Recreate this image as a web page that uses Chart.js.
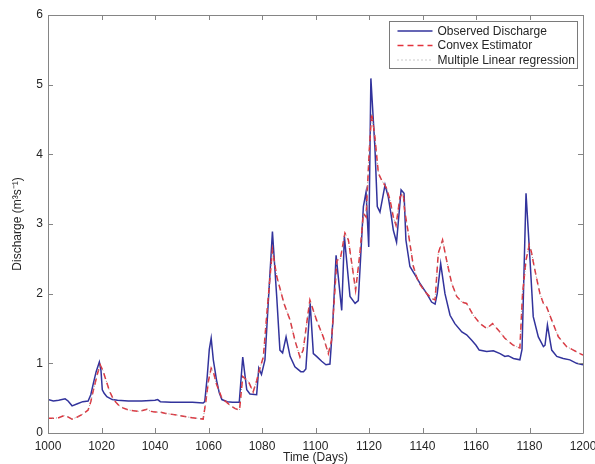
<!DOCTYPE html>
<html>
<head>
<meta charset="utf-8">
<script src="https://cdn.jsdelivr.net/npm/chart.js@4"></script>
<style>
  html, body { margin: 0; padding: 0; background: #fff; }
  #wrap { width: 595px; height: 464px; }
</style>
</head>
<body>
<div id="wrap"><canvas id="c" width="595" height="464"></canvas></div>
<script>
// ---- data ----
const seriesNames = ['Observed Discharge', 'Convex Estimator', 'Multiple Linear regression'];
const xTickValues = [1000, 1020, 1040, 1060, 1080, 1100, 1120, 1140, 1160, 1180, 1200];
const yTickValues = [0, 1, 2, 3, 4, 5, 6];

const obsDays = [1000,1002,1004,1006.4,1007.5,1009,1011,1013,1015,1016,1017,1018,1019.2,1019.8,1020.3,1021,1022,1024,1026,1030,1035,1040,1041,1042,1046,1050,1054,1058,1058.6,1059.5,1060.3,1061,1061.8,1063,1064,1065,1067,1069,1071.5,1072.8,1074.3,1075.5,1078,1078.8,1079.8,1081.1,1082.4,1083.9,1085.5,1086.7,1087.7,1089,1090.5,1092.3,1094.5,1095.5,1096.4,1097.2,1098,1099.2,1100.4,1102.3,1103.9,1105.4,1106.5,1107.7,1109.8,1110.8,1112.9,1114.8,1116,1117.9,1118.9,1119.9,1120.7,1122.2,1123.1,1124.1,1126,1127.2,1128.2,1129.1,1130.3,1132,1133.1,1133.8,1135.3,1137.2,1139,1141.6,1143.4,1144.7,1145.5,1146.8,1148.4,1150.3,1152.1,1154.7,1156.5,1158.4,1160,1161.2,1164,1166.5,1169,1170.8,1172,1174,1176.4,1177.2,1178.7,1180.2,1181.4,1183.3,1185.2,1185.8,1186.7,1188.3,1190.2,1192.6,1195.1,1197.6,1200];
const obsValues = [0.48,0.46,0.47,0.49,0.46,0.39,0.42,0.45,0.46,0.55,0.72,0.88,1.02,0.90,0.62,0.57,0.52,0.48,0.47,0.46,0.46,0.47,0.48,0.45,0.44,0.44,0.44,0.43,0.45,0.80,1.20,1.36,1.05,0.76,0.58,0.48,0.45,0.44,0.44,1.09,0.62,0.56,0.55,0.93,0.84,1.05,1.91,2.89,1.96,1.19,1.15,1.38,1.10,0.95,0.88,0.88,0.92,1.40,1.86,1.14,1.10,1.03,0.98,0.99,1.60,2.55,1.76,2.82,1.96,1.86,1.90,3.25,3.46,2.67,5.09,4.11,3.25,3.17,3.56,3.39,3.15,2.91,2.74,3.49,3.44,2.77,2.39,2.27,2.15,2.00,1.88,1.85,2.00,2.43,2.00,1.69,1.57,1.45,1.41,1.33,1.26,1.19,1.17,1.18,1.14,1.10,1.11,1.07,1.05,1.20,3.44,2.48,1.67,1.38,1.24,1.26,1.55,1.19,1.10,1.07,1.05,1.00,0.98];

const convexDays = [1000,1002,1004,1006,1007,1009,1011,1013,1015,1016,1017,1018.5,1019.5,1020.5,1021.5,1023,1024.5,1026.4,1028,1030,1032,1034,1036,1037,1038.5,1040,1042,1044,1048,1052,1056,1058,1059,1060,1061,1062,1063,1065,1066.5,1068,1070,1071.6,1072.8,1074.9,1076.7,1078,1079,1080.5,1082,1083.9,1085.5,1088.3,1090.5,1092.3,1094.2,1095.4,1096.8,1097.9,1100.4,1102.9,1104.8,1106,1108,1109.3,1111,1112.3,1114.1,1115,1116.6,1117.9,1118.9,1120.1,1121,1122.2,1123.5,1124.7,1126.6,1127.9,1129.1,1130.1,1131.6,1132.8,1133.3,1134.7,1136.6,1138.4,1140.9,1143.4,1144.7,1145.9,1147.5,1149,1150.9,1152.8,1154.7,1156.5,1159,1161.5,1164,1166.2,1168.3,1170.8,1173.9,1176.4,1177.4,1178.7,1179.9,1180.7,1182,1183.9,1185.2,1186.4,1188.3,1190.8,1193.9,1196.4,1198.9,1200];
const convexValues = [0.21,0.21,0.22,0.25,0.24,0.20,0.23,0.27,0.33,0.45,0.62,0.85,0.98,0.90,0.78,0.60,0.48,0.40,0.36,0.33,0.32,0.31,0.33,0.34,0.31,0.30,0.30,0.28,0.26,0.23,0.21,0.20,0.45,0.75,0.93,0.85,0.70,0.50,0.45,0.40,0.35,0.33,0.81,0.74,0.59,0.75,0.90,1.09,1.80,2.63,2.25,1.85,1.62,1.33,1.09,1.19,1.60,1.91,1.62,1.38,1.14,1.33,2.48,2.50,2.87,2.77,2.29,2.05,2.58,3.15,3.10,4.06,4.59,4.25,3.73,3.63,3.51,3.34,3.10,2.98,3.39,3.44,3.20,2.87,2.39,2.17,2.03,1.93,1.91,2.58,2.77,2.48,2.15,1.96,1.88,1.86,1.69,1.57,1.50,1.57,1.48,1.36,1.26,1.22,2.00,2.48,2.70,2.60,2.34,2.00,1.86,1.81,1.62,1.38,1.24,1.19,1.14,1.12];

const mlrDays = [1000,1002,1004,1006,1007,1009,1011,1013,1015,1016,1017,1018.5,1019.5,1020.5,1021.5,1023,1024.5,1026.4,1028,1030,1032,1034,1036,1037,1038.5,1040,1042,1044,1048,1052,1056,1058,1059,1060,1061,1062,1063,1065,1066.5,1068,1070,1071.6,1072.8,1074.9,1076.7,1078,1079,1080.5,1082,1083.9,1085.5,1088.3,1090.5,1092.3,1094.2,1095.4,1096.8,1097.9,1100.4,1102.9,1104.8,1106,1108,1109.3,1111,1112.3,1114.1,1115,1116.6,1117.9,1118.9,1120.1,1121,1122.2,1123.5,1124.7,1126.6,1127.9,1129.1,1130.1,1131.6,1132.8,1133.3,1134.7,1136.6,1138.4,1140.9,1143.4,1144.7,1145.9,1147.5,1149,1150.9,1152.8,1154.7,1156.5,1159,1161.5,1164,1166.2,1168.3,1170.8,1173.9,1176.4,1177.4,1178.7,1179.9,1180.7,1182,1183.9,1185.2,1186.4,1188.3,1190.8,1193.9,1196.4,1198.9,1200];
const mlrValues = [0.21,0.21,0.22,0.25,0.24,0.20,0.23,0.27,0.33,0.45,0.62,0.85,0.98,0.90,0.78,0.60,0.48,0.40,0.36,0.33,0.32,0.31,0.33,0.34,0.31,0.30,0.30,0.28,0.26,0.23,0.21,0.20,0.45,0.75,0.93,0.85,0.70,0.50,0.45,0.40,0.35,0.33,0.81,0.74,0.59,0.75,0.90,1.09,1.80,2.63,2.25,1.85,1.62,1.33,1.09,1.19,1.60,1.91,1.62,1.38,1.14,1.33,2.48,2.50,2.87,2.77,2.29,2.05,2.58,3.15,3.10,4.06,4.59,4.25,3.73,3.63,3.51,3.34,3.10,2.98,3.39,3.44,3.20,2.87,2.39,2.17,2.03,1.93,1.91,2.58,2.77,2.48,2.15,1.96,1.88,1.86,1.69,1.57,1.50,1.57,1.48,1.36,1.26,1.22,2.00,2.48,2.70,2.60,2.34,2.00,1.86,1.81,1.62,1.38,1.24,1.19,1.14,1.12];

const toPoints = (xs, ys) => xs.map((x, i) => ({ x: x, y: ys[i] }));
const FONT = '"Liberation Sans", Arial, Helvetica, sans-serif';
const AXIS_COLOR = '#858585';
const TEXT_COLOR = '#262626';

// frame + inward tick marks (MATLAB style box)
const framePlugin = {
  id: 'frame',
  afterDatasetsDraw(chart) {
    const { ctx, chartArea: a, scales } = chart;
    ctx.save();
    ctx.strokeStyle = AXIS_COLOR;
    ctx.lineWidth = 1;
    ctx.beginPath();
    ctx.rect(Math.round(a.left) + 0.5, Math.round(a.top) + 0.5,
             Math.round(a.right - a.left), Math.round(a.bottom - a.top));
    ctx.stroke();
    const L = 5;
    ctx.beginPath();
    xTickValues.forEach(v => {
      const px = Math.round(scales.x.getPixelForValue(v)) + 0.5;
      ctx.moveTo(px, a.bottom); ctx.lineTo(px, a.bottom - L);
      ctx.moveTo(px, a.top); ctx.lineTo(px, a.top + L);
    });
    yTickValues.forEach(v => {
      const py = Math.round(scales.y.getPixelForValue(v)) + 0.5;
      ctx.moveTo(a.left, py); ctx.lineTo(a.left + L, py);
      ctx.moveTo(a.right, py); ctx.lineTo(a.right - L, py);
    });
    ctx.stroke();
    ctx.restore();
  }
};

// boxed legend inside top-right of the axes
const boxLegendPlugin = {
  id: 'boxLegend',
  afterDraw(chart) {
    const { ctx, chartArea: a } = chart;
    const w = 188, h = 47;
    const x0 = Math.round(a.right - 6 - w) + 0.5;
    const y0 = Math.round(a.top + 6) + 0.5;
    ctx.save();
    ctx.fillStyle = '#fff';
    ctx.fillRect(x0, y0, w, h);
    ctx.strokeStyle = '#7a7a7a';
    ctx.lineWidth = 1;
    ctx.strokeRect(x0, y0, w, h);
    ctx.font = '12px ' + FONT;
    ctx.textBaseline = 'middle';
    ctx.fillStyle = TEXT_COLOR;
    chart.data.datasets.forEach((ds, i) => {
      const cy = y0 + 9.5 + i * 14.5;
      ctx.save();
      ctx.strokeStyle = ds.borderColor;
      ctx.lineWidth = ds.borderWidth;
      ctx.setLineDash(ds.borderDash || []);
      ctx.beginPath();
      ctx.moveTo(x0 + 8, cy);
      ctx.lineTo(x0 + 43, cy);
      ctx.stroke();
      ctx.restore();
      ctx.fillText(ds.label, x0 + 48, cy + 0.5);
    });
    ctx.restore();
  }
};

new Chart(document.getElementById('c'), {
  type: 'line',
  data: {
    datasets: [
      {
        label: seriesNames[0],
        data: toPoints(obsDays, obsValues),
        borderColor: '#32339c',
        borderWidth: 1.5,
        pointRadius: 0,
        tension: 0,
        order: 3
      },
      {
        label: seriesNames[1],
        data: toPoints(convexDays, convexValues),
        borderColor: '#e3323c',
        borderWidth: 1.5,
        borderDash: [6, 4],
        pointRadius: 0,
        tension: 0,
        order: 2
      },
      {
        label: seriesNames[2],
        data: toPoints(mlrDays, mlrValues),
        borderColor: 'rgba(140,140,140,0.9)',
        borderWidth: 1,
        borderDash: [1, 3],
        pointRadius: 0,
        tension: 0,
        order: 1
      }
    ]
  },
  options: {
    responsive: false,
    animation: false,
    devicePixelRatio: 1,
    layout: { padding: { top: 15, right: 12, bottom: 0, left: 0 } },
    plugins: { legend: { display: false }, tooltip: { enabled: false } },
    scales: {
      x: {
        type: 'linear',
        min: 1000, max: 1200,
        afterFit: s => { s.height = 31; s.paddingLeft = 0; s.paddingRight = 0; },
        afterBuildTicks: s => { s.ticks = xTickValues.map(v => ({ value: v })); },
        grid: { display: false, drawTicks: false },
        border: { display: false },
        ticks: { padding: 6, color: TEXT_COLOR, font: { family: FONT, size: 12 }, maxRotation: 0, autoSkip: false,
                 callback: v => String(v) },
        title: { display: true, text: 'Time (Days)', color: TEXT_COLOR, padding: { top: 0, bottom: 0 },
                 font: { family: FONT, size: 12, lineHeight: 1 } }
      },
      y: {
        type: 'linear',
        min: 0, max: 6,
        afterFit: s => { s.width = 48; s.paddingTop = 0; s.paddingBottom = 0; },
        afterBuildTicks: s => { s.ticks = yTickValues.map(v => ({ value: v })); },
        grid: { display: false, drawTicks: false },
        border: { display: false },
        ticks: { padding: 5, color: TEXT_COLOR, font: { family: FONT, size: 12 }, callback: v => String(v) },
        title: { display: true, text: 'Discharge (m³s⁻¹)', color: TEXT_COLOR, padding: { top: 12, bottom: 0 },
                 font: { family: FONT, size: 12, lineHeight: 1 } }
      }
    }
  },
  plugins: [framePlugin, boxLegendPlugin]
});
</script>
</body>
</html>
